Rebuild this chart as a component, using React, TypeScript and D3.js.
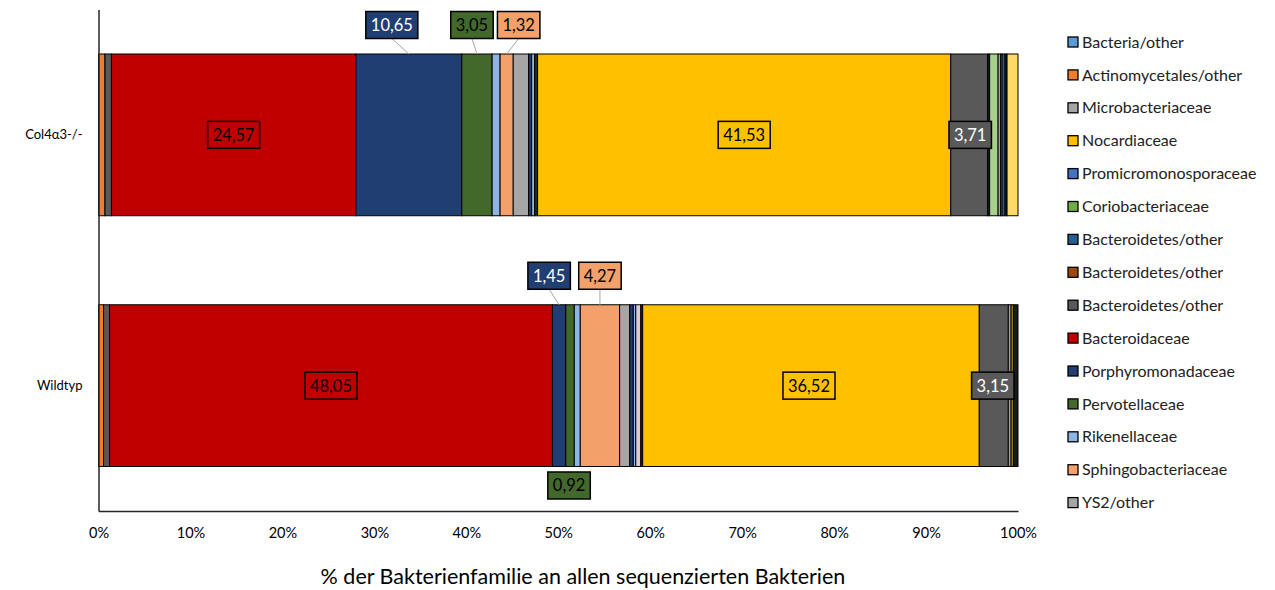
import React, { useEffect, useRef } from 'react';
import * as d3 from 'd3';

// Categories (rows of the 100 % stacked bar)
const categories = ['Col4α3-/-', 'Wildtyp'];

// Bacterial families in stacking order (left to right)
const seriesNames = [
  'Bacteria/other',
  'Actinomycetales/other',
  'Microbacteriaceae',
  'Nocardiaceae',
  'Promicromonosporaceae',
  'Coriobacteriaceae',
  'Bacteroidetes/other',
  'Bacteroidetes/other',
  'Bacteroidetes/other',
  'Bacteroidaceae',
  'Porphyromonadaceae',
  'Pervotellaceae',
  'Rikenellaceae',
  'Sphingobacteriaceae',
  'YS2/other',
  'Sonstige 1',
  'Sonstige 2',
  'Sonstige 3',
  'Sonstige 4',
  'Sonstige 5',
  'Sonstige 6',
  'Sonstige 7',
  'Sonstige 8',
  'Sonstige 9',
  'Sonstige 10',
  'Sonstige 11',
  'Sonstige 12',
  'Sonstige 13',
];

const seriesColors = [
  '#5B9BD5', '#ED7D31', '#A5A5A5', '#FFC000', '#4472C4', '#70AD47',
  '#255E91', '#9E480E', '#595959', '#C00000', '#203E72', '#43682B',
  '#8DB4E2', '#F4A06A', '#A6A6A6',
  '#1F3D6E', '#8DB4E2', '#D0D0D0', '#262626', '#FFC000', '#595959',
  '#1A1A1A', '#A9D18E', '#A5A5A5', '#BF8F00', '#2F5597', '#1A1A1A', '#FFD966',
];

// Shares per family (%), one array per category
const col4Values = [
  0, 0.65, 0, 0, 0, 0, 0, 0, 0.65, 24.57, 10.65, 3.05, 0.8, 1.32, 1.55,
  0.3, 0.3, 0, 0.3, 41.53, 3.71, 0.2, 0.85, 0.25, 0.15, 0.3, 0.2, 1.1,
];
const wildtypValues = [
  0, 0.55, 0, 0, 0, 0, 0, 0, 0.65, 48.05, 1.45, 0.92, 0.65, 4.27, 1.1,
  0.38, 0.27, 0.55, 0.2, 36.52, 3.15, 0, 0, 0.3, 0.25, 0, 0.5, 0,
];

// Number of families listed in the legend
const legendCount = 15;

// Tick values of the percentage axis
const xTickValues = [0, 0.1, 0.2, 0.3, 0.4, 0.5, 0.6, 0.7, 0.8, 0.9, 1];

const axisTitle = '% der Bakterienfamilie an allen sequenzierten Bakterien';

// Data labels: which segment, where it sits and horizontal nudge
const labelSpecs = [
  { series: 9, row: 0, place: 'inside', dx: 0 },
  { series: 10, row: 0, place: 'above', dx: -17 },
  { series: 11, row: 0, place: 'above', dx: -5 },
  { series: 13, row: 0, place: 'above', dx: 12 },
  { series: 19, row: 0, place: 'inside', dx: 0 },
  { series: 20, row: 0, place: 'inside', dx: 1 },
  { series: 9, row: 1, place: 'inside', dx: 0 },
  { series: 10, row: 1, place: 'above', dx: -10 },
  { series: 11, row: 1, place: 'below', dx: -1 },
  { series: 13, row: 1, place: 'above', dx: 0 },
  { series: 19, row: 1, place: 'inside', dx: -2 },
  { series: 20, row: 1, place: 'inside', dx: -1 },
];

// Families whose labels use light text
const lightLabelSeries = [10, 20];

const FONT = 'Lato, "Liberation Sans", Arial, sans-serif';

export default function App() {
  const ref = useRef<SVGSVGElement>(null);

  useEffect(() => {
    const svg = d3.select(ref.current);
    svg.selectAll('*').remove();

    const x = d3.scaleLinear().domain([0, 1]).range([98.5, 1018]);
    const y = d3
      .scaleBand<string>()
      .domain(categories)
      .range([9.5, 511])
      .paddingInner(0.355)
      .paddingOuter(0.1775);

    const valueRows = [col4Values, wildtypValues];
    const keys = seriesNames.map((_, j) => 's' + j);
    const rows = categories.map((c, i) => {
      const r: any = { category: c };
      keys.forEach((k, j) => (r[k] = valueRows[i][j]));
      return r;
    });
    const layers = d3.stack<any>().keys(keys).offset(d3.stackOffsetExpand)(rows);

    // Bars
    const g = svg.append('g');
    layers.forEach((layer, j) => {
      g.selectAll(null)
        .data(layer)
        .enter()
        .append('rect')
        .attr('x', (d) => x(d[0]))
        .attr('y', (d) => y(d.data.category)!)
        .attr('width', (d) => Math.max(0, x(d[1]) - x(d[0])))
        .attr('height', y.bandwidth())
        .attr('fill', seriesColors[j])
        .attr('stroke', '#000')
        .attr('stroke-width', 1);
    });

    // Axes
    const xAxis = d3
      .axisBottom(x)
      .tickValues(xTickValues)
      .tickFormat(d3.format('.0%') as any)
      .tickSize(0)
      .tickSizeOuter(0)
      .tickPadding(17);
    const gx = svg.append('g').attr('transform', 'translate(0,511)').call(xAxis);
    gx.select('.domain').attr('stroke', '#262626').attr('stroke-width', 1.5);
    gx.selectAll('text').attr('font-family', FONT).attr('font-size', 14.5).attr('fill', '#000');

    const yAxis = d3.axisLeft(y).tickSize(0).tickSizeOuter(0).tickPadding(16);
    const gy = svg.append('g').attr('transform', 'translate(98.5,0)').call(yAxis);
    gy.select('.domain').attr('stroke', '#262626').attr('stroke-width', 1.5);
    gy.selectAll('text').attr('font-family', FONT).attr('font-size', 13).attr('fill', '#000');

    // Axis title
    svg
      .append('text')
      .attr('x', 583)
      .attr('y', 584)
      .attr('text-anchor', 'middle')
      .attr('font-family', FONT)
      .attr('font-size', 21.5)
      .attr('fill', '#000')
      .text(axisTitle);

    // Data labels
    const fmt = (v: number) => d3.format('.2f')(v).replace('.', ',');
    const lg = svg.append('g');
    labelSpecs.forEach((spec) => {
      const seg = layers[spec.series][spec.row];
      const cat = categories[spec.row];
      const segCx = (x(seg[0]) + x(seg[1])) / 2;
      const top = y(cat)!;
      const bottom = top + y.bandwidth();
      let cy = top + y.bandwidth() / 2;
      if (spec.place === 'above') cy = top - 29;
      if (spec.place === 'below') cy = bottom + 19;
      const cx = segCx + spec.dx;
      const color = seriesColors[spec.series];
      const value = valueRows[spec.row][spec.series];

      const lbl = lg.append('g');
      const rect = lbl.append('rect');
      const txt = lbl
        .append('text')
        .attr('x', cx)
        .attr('y', cy)
        .attr('dy', '0.36em')
        .attr('text-anchor', 'middle')
        .attr('font-family', FONT)
        .attr('font-size', 16.5)
        .attr('fill', lightLabelSeries.includes(spec.series) ? '#fff' : '#000')
        .text(fmt(value));
      const w = (txt.node() as SVGTextElement).getComputedTextLength() + 10;
      const h = 27;
      rect
        .attr('x', cx - w / 2)
        .attr('y', cy - h / 2)
        .attr('width', w)
        .attr('height', h)
        .attr('fill', color)
        .attr('stroke', '#000')
        .attr('stroke-width', 1.5);
      if (spec.place === 'above') {
        lg.insert('line', ':first-child')
          .attr('x1', cx)
          .attr('y1', cy + h / 2)
          .attr('x2', segCx)
          .attr('y2', top)
          .attr('stroke', '#A6A6A6')
          .attr('stroke-width', 1);
      }
    });

    // Legend
    const legend = svg.append('g').attr('transform', 'translate(1068,42)');
    d3.range(legendCount).forEach((i) => {
      const row = legend.append('g').attr('transform', `translate(0,${i * 32.9})`);
      row
        .append('rect')
        .attr('x', 0)
        .attr('y', -5)
        .attr('width', 10)
        .attr('height', 10)
        .attr('fill', seriesColors[i])
        .attr('stroke', '#000')
        .attr('stroke-width', 1.3);
      row
        .append('text')
        .attr('x', 14)
        .attr('y', 0)
        .attr('dy', '0.35em')
        .attr('font-family', FONT)
        .attr('font-size', 16)
        .attr('fill', '#222')
        .text(seriesNames[i]);
    });
  }, []);

  return (
    <svg
      ref={ref}
      width={1275}
      height={590}
      style={{ position: 'absolute', left: 0, top: 0, background: '#fff' }}
    />
  );
}
